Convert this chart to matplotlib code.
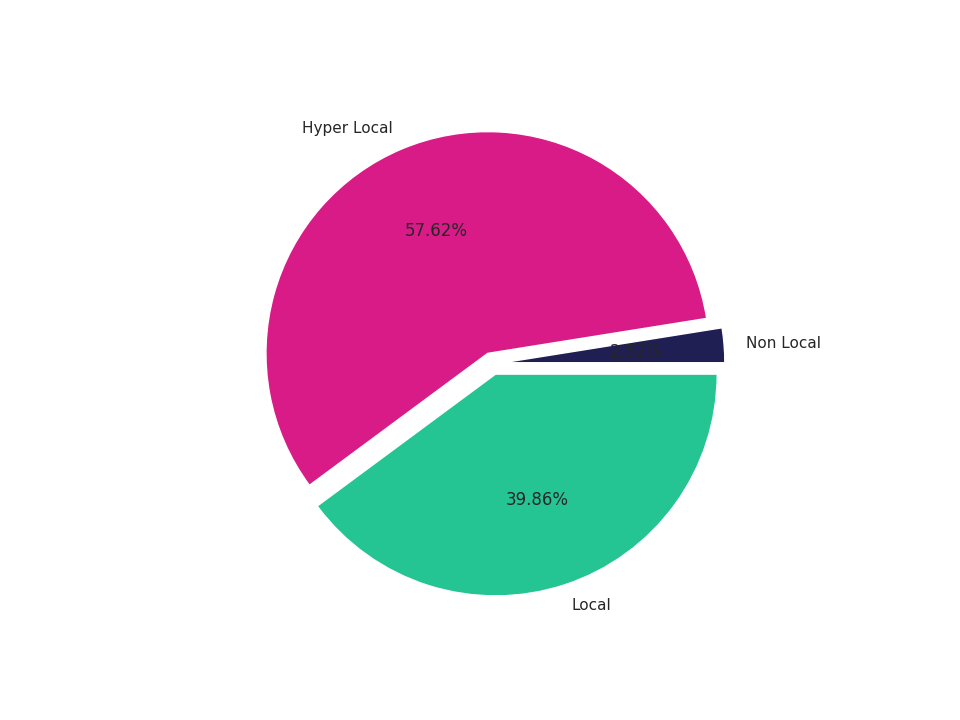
import matplotlib.pyplot as plt
import seaborn as sns

sns.set_theme()

labels = ["Non Local", "Hyper Local", "Local"]
values = [2.52, 57.62, 39.86]
colors = ["#1F1F54", "#D81B87", "#25C493"]
explode = [0.05, 0.05, 0.05]

fig, ax = plt.subplots(figsize=(9.6, 7.2), dpi=100)
ax.pie(values, labels=labels, colors=colors, explode=explode,
       autopct="%.2f%%", startangle=0)
fig.savefig("out.png")
